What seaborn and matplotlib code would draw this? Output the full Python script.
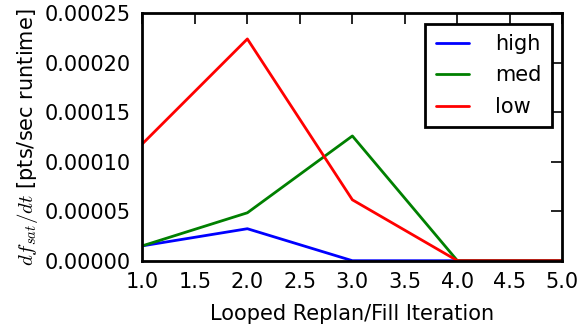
import pandas as pd
import seaborn as sns
import matplotlib.pyplot as plt

iterations = [1, 2, 3, 4, 5]
high = [0.000015, 0.0000323, 0.0, 0.0, 0.0]
med = [0.000015, 0.0000484, 0.000126, 0.0, 0.0]
low = [0.000118, 0.000224, 0.0000615, 0.0, 0.0]
levels = ["high", "med", "low"]
colors = ["#0000ff", "#008000", "#ff0000"]

df = pd.DataFrame(
    {
        "iteration": iterations * 3,
        "rate": high + med + low,
        "level": [lv for lv in levels for _ in iterations],
    }
)

sns.set_style("white")
plt.rcParams["font.family"] = ["DejaVu Sans"]
plt.rcParams["mathtext.fontset"] = "cm"
plt.rcParams["text.color"] = "black"
plt.rcParams["axes.labelcolor"] = "black"
plt.rcParams["xtick.color"] = "black"
plt.rcParams["ytick.color"] = "black"

fig, ax = plt.subplots(figsize=(5.81, 3.30), dpi=100)
sns.lineplot(
    data=df,
    x="iteration",
    y="rate",
    hue="level",
    hue_order=levels,
    palette=colors,
    linewidth=2,
    ax=ax,
)

ax.set_xlim(1, 5)
ax.set_ylim(0, 0.00025)
ax.set_yticks([0, 0.00005, 0.0001, 0.00015, 0.0002, 0.00025])
ax.set_yticklabels([f"{v:.5f}" for v in ax.get_yticks()])
ax.set_xticks([1.0, 1.5, 2.0, 2.5, 3.0, 3.5, 4.0, 4.5, 5.0])
ax.set_xticklabels([f"{v:.1f}" for v in ax.get_xticks()])
ax.tick_params(
    direction="in", length=8, width=1.2, labelsize=15,
    top=True, right=True, pad=8,
)
for sp in ax.spines.values():
    sp.set_color("black")
    sp.set_linewidth(2)

ax.set_xlabel("Looped Replan/Fill Iteration", fontsize=15, labelpad=9)
ax.set_ylabel(r"$df_{sat}/dt$ [pts/sec runtime]", fontsize=15, labelpad=4)

leg = ax.legend(
    loc="upper right", fontsize=15, fancybox=False, framealpha=1,
    handlelength=1.6, handletextpad=1.25, borderpad=0.5, labelspacing=0.55,
    borderaxespad=0.5,
)
leg.get_frame().set_edgecolor("black")
leg.get_frame().set_linewidth(2)

fig.subplots_adjust(left=0.245, right=0.968, top=0.96, bottom=0.21)
fig.savefig("out.png", dpi=100)
